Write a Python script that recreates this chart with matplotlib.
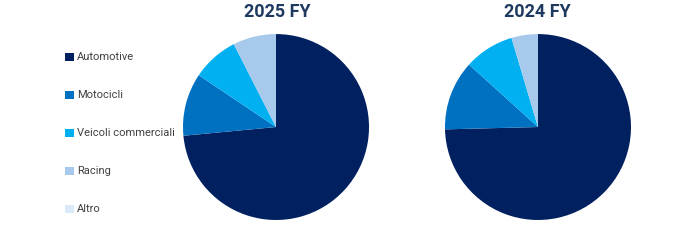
import matplotlib
matplotlib.use("Agg")
from matplotlib import pyplot as plt

segments = ['Automotive', 'Motocicli', 'Veicoli commerciali', 'Racing', 'Altro']
fy2025 = [73.5, 10.9, 8.1, 7.5, 0.0]
fy2024 = [74.6, 12.1, 8.7, 4.6, 0.0]
titles = ['2025 FY', '2024 FY']
colors = ['#002060', '#0070C0', '#00B0F0', '#A6C9EC', '#DAE9F8']

fig = plt.figure(figsize=(6.74, 2.44), dpi=100)

# two pies, same size, side by side
ax1 = fig.add_axes([0.2715, 0.0984, 0.276, 0.762])
ax2 = fig.add_axes([0.6602, 0.0984, 0.276, 0.762])

for ax, vals, t in zip([ax1, ax2], [fy2025, fy2024], titles):
    wedges, _ = ax.pie(vals, colors=colors, startangle=90, counterclock=False,
                       wedgeprops={'linewidth': 0})
    ax.set_xlim(-1, 1)
    ax.set_ylim(-1, 1)
    ax.set_aspect('auto')
    ax.set_axis_off()
    if ax is ax1:
        handles = wedges

fig.text(0.411, 0.951, titles[0], ha='center', va='center', fontsize=13,
         fontweight='bold', color='#1F3A5F', family='Roboto')
fig.text(0.798, 0.951, titles[1], ha='center', va='center', fontsize=13,
         fontweight='bold', color='#1F3A5F', family='Roboto')

leg = fig.legend(handles, segments, loc='upper left', bbox_to_anchor=(0.082, 0.826),
                 frameon=False, handlelength=0.75, handleheight=0.75, handletextpad=0.3,
                 labelspacing=2.52, prop={'family': 'Roboto', 'size': 8})
for txt in leg.get_texts():
    txt.set_color('#404040')

plt.savefig('out.png', dpi=100)
